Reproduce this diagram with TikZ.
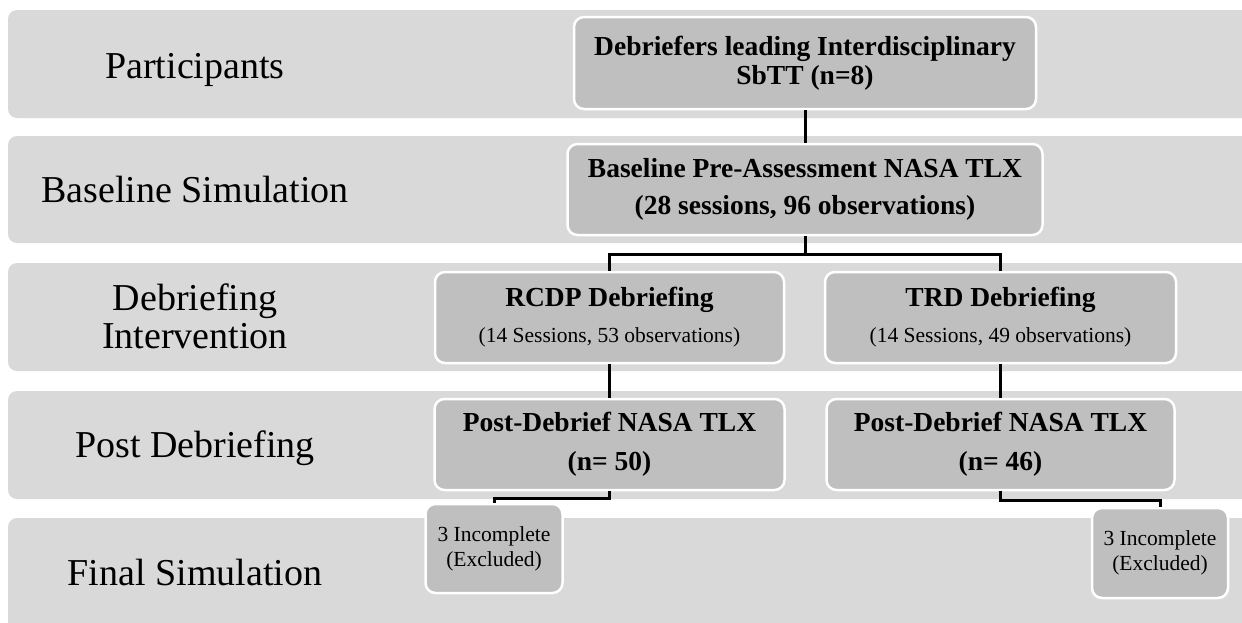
\documentclass[tikz,border=0pt]{standalone}
\usepackage{fontspec}
\setmainfont{Liberation Serif}
\definecolor{bandgray}{HTML}{D9D9D9}
\definecolor{boxgray}{HTML}{BFBFBF}
\begin{document}
\begin{tikzpicture}[x=1pt,y=-1pt,
  band/.style={fill=bandgray, rounded corners=9pt},
  rowlabel/.style={font=\fontsize{38}{38}\selectfont, align=center, inner sep=0pt},
  box/.style={fill=boxgray, draw=white, line width=2.5pt, rounded corners=10pt, align=center, inner sep=0pt},
  conn/.style={line width=3pt, draw=black}
]
\useasboundingbox (0,0) rectangle (1242,622);
\fill[white] (0,0) rectangle (1242,622);
% bands
\fill[band] (8,10) rectangle (1262,118);
\fill[band] (8,136) rectangle (1262,243);
\fill[band] (8,263) rectangle (1262,371);
\fill[band] (8,391) rectangle (1262,499);
\fill[band] (8,518) rectangle (1262,640);
% row labels
\node[rowlabel, anchor=base] (l1) at (195,78) {Participants};
\node[rowlabel, anchor=base] (l2) at (195,202) {Baseline Simulation};
\node[rowlabel] (l3) at (195,316) {Debriefing\\Intervention};
\node[rowlabel, anchor=base] (l4) at (195,457) {Post Debriefing};
\node[rowlabel, anchor=base] (l5) at (195,585) {Final Simulation};
% boxes
\node[box, minimum width=462, minimum height=92, font=\fontsize{27.5}{29}\selectfont\bfseries] (b1) at (805,63)
  {Debriefers leading Interdisciplinary\\SbTT (n=8)};
\node[box, minimum width=475, minimum height=91, font=\fontsize{27.5}{37}\selectfont\bfseries] (b2) at (805,189.5)
  {Baseline Pre-Assessment NASA TLX\\(28 sessions, 96 observations)};
\node[box, minimum width=349, minimum height=91, font=\fontsize{27.5}{36}\selectfont] (rcdp) at (609.5,317.5)
  {\textbf{RCDP Debriefing}\\\fontsize{21.5}{36}\selectfont (14 Sessions, 53 observations)};
\node[box, minimum width=351, minimum height=91, font=\fontsize{27.5}{36}\selectfont] (trd) at (1000.5,317.5)
  {\textbf{TRD Debriefing}\\\fontsize{21.5}{36}\selectfont (14 Sessions, 49 observations)};
\node[box, minimum width=350, minimum height=91, font=\fontsize{27.5}{39}\selectfont\bfseries] (postL) at (609.5,444.5)
  {Post-Debrief NASA TLX\\(n= 50)};
\node[box, minimum width=348, minimum height=91, font=\fontsize{27.5}{39}\selectfont\bfseries] (postR) at (1000.5,444.5)
  {Post-Debrief NASA TLX\\(n= 46)};
\node[box, minimum width=137, minimum height=89, font=\fontsize{21.5}{25}\selectfont] (incL) at (494,548.5)
  {3 Incomplete\\(Excluded)};
\node[box, minimum width=136, minimum height=90, font=\fontsize{21.5}{25}\selectfont] (incR) at (1160,553)
  {3 Incomplete\\(Excluded)};
% connectors
\draw[conn] (b1.south) -- (b2.north);
\draw[conn] (b2.south) -- ++(0,18) coordinate (split) -| (rcdp.north);
\draw[conn] (split) -| (trd.north);
\draw[conn] (rcdp.south) -- (postL.north);
\draw[conn] (trd.south) -- (postR.north);
\draw[conn] (postL.south) -- ++(0,7) -| (incL.north);
\draw[conn] (postR.south) -- ++(0,9) -| (incR.north);
\end{tikzpicture}
\end{document}
